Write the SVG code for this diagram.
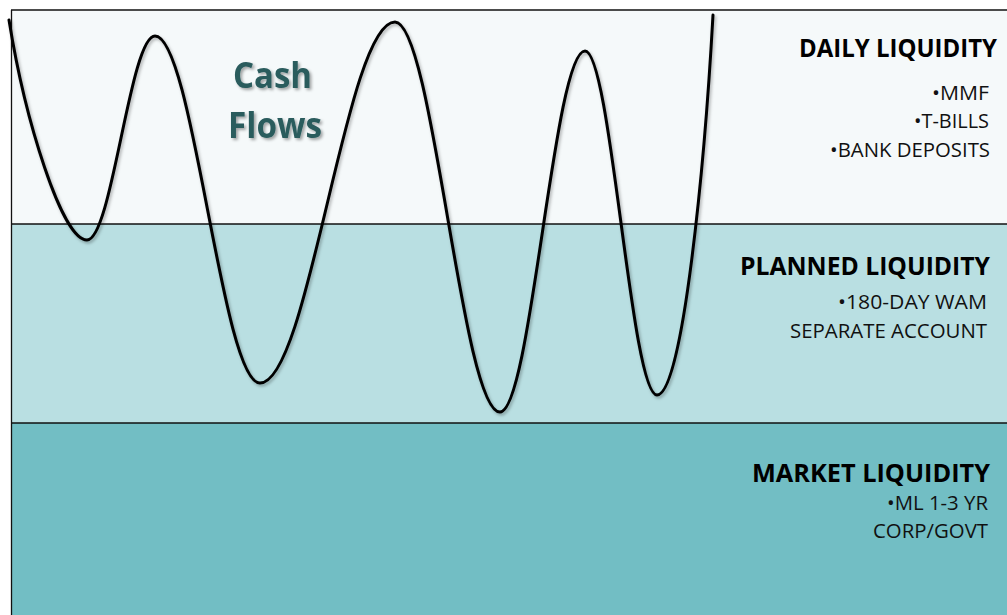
<svg xmlns="http://www.w3.org/2000/svg" width="1007" height="615" viewBox="0 0 1007 615">
  <defs>
    <style>
      .band { stroke: none; }
      .rule { stroke: #111; stroke-width: 1.3; fill: none; }
      .curve { stroke: #000; stroke-width: 3; fill: none; stroke-linecap: round; }
      .hd { font-family: "Open Sans", "Liberation Sans", sans-serif; font-weight: 700; font-size: 25px; fill: #000; }
      .it { font-family: "Open Sans", "Liberation Sans", sans-serif; font-weight: 400; font-size: 20px; fill: #111; }
      .cf { font-family: "Open Sans", "Liberation Sans", sans-serif; font-weight: 700; font-size: 35px; fill: #2a5b5d; }
    </style>
    <filter id="shadow" x="-20%" y="-20%" width="140%" height="140%">
      <feDropShadow dx="2" dy="2" stdDeviation="1.5" flood-color="#000" flood-opacity="0.35"/>
    </filter>
    <filter id="cshadow" x="-5%" y="-5%" width="110%" height="110%">
      <feDropShadow dx="1.5" dy="2" stdDeviation="1.5" flood-color="#000" flood-opacity="0.3"/>
    </filter>
  </defs>

  <g id="bands">
    <rect class="band" x="11" y="10" width="996" height="214" fill="#f5f9fa"/>
    <rect class="band" x="11" y="224" width="996" height="199" fill="#b9dfe2"/>
    <rect class="band" x="11" y="423" width="996" height="192" fill="#72bec4"/>
    <line class="rule" x1="11" y1="10" x2="1007" y2="10"/>
    <line class="rule" x1="11" y1="224" x2="1007" y2="224"/>
    <line class="rule" x1="11" y1="423" x2="1007" y2="423"/>
    <line class="rule" x1="11.5" y1="10" x2="11.5" y2="615"/>
  </g>

  <g id="connectors">
    <path class="curve" filter="url(#cshadow)" d="M 9 20 C 25 120, 62 240, 87 240 C 112 240, 130 36, 155 36 C 193 36, 222 383, 260 383 C 309 383, 346 22, 395 22 C 433 22, 462 412, 500 412 C 531 412, 554 51, 585 51 C 611 51, 631 395, 657 395 C 683 395, 705 160, 713 15"/>
  </g>

  <g id="cash-flows">
    <text class="cf" filter="url(#shadow)" x="233" y="88" textLength="79" lengthAdjust="spacingAndGlyphs">Cash</text>
    <text class="cf" filter="url(#shadow)" x="228" y="138" textLength="94" lengthAdjust="spacingAndGlyphs">Flows</text>
  </g>

  <g id="daily-liquidity">
    <text class="hd" x="799" y="57" textLength="198" lengthAdjust="spacingAndGlyphs">DAILY LIQUIDITY</text>
    <text class="it" x="932" y="100" textLength="57" lengthAdjust="spacingAndGlyphs">•MMF</text>
    <text class="it" x="914" y="128" textLength="75" lengthAdjust="spacingAndGlyphs">•T-BILLS</text>
    <text class="it" x="830" y="157" textLength="160" lengthAdjust="spacingAndGlyphs">•BANK DEPOSITS</text>
  </g>

  <g id="planned-liquidity">
    <text class="hd" x="740" y="275" textLength="250" lengthAdjust="spacingAndGlyphs">PLANNED LIQUIDITY</text>
    <text class="it" x="838" y="309" textLength="149" lengthAdjust="spacingAndGlyphs">•180-DAY WAM</text>
    <text class="it" x="790" y="338" textLength="197" lengthAdjust="spacingAndGlyphs">SEPARATE ACCOUNT</text>
  </g>

  <g id="market-liquidity">
    <text class="hd" x="752" y="482" textLength="238" lengthAdjust="spacingAndGlyphs">MARKET LIQUIDITY</text>
    <text class="it" x="887" y="510" textLength="101" lengthAdjust="spacingAndGlyphs">•ML 1-3 YR</text>
    <text class="it" x="873" y="538" textLength="115" lengthAdjust="spacingAndGlyphs">CORP/GOVT</text>
  </g>
</svg>
